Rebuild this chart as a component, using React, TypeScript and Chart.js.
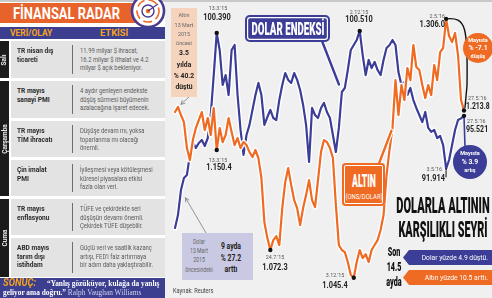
import React, { useEffect, useRef } from "react";
import { Chart, registerables } from "chart.js";

Chart.register(...registerables);

// ---------------- DATA ----------------
const dollarIndex: number[] = [
  88.77, 89.54, 91.03, 91.75, 91.93, 93.12, 93.89, 93.54, 93.83, 94.01,
  93.65, 94.13, 95.5, 97.88, 100.39, 99.37, 97.29, 97.88, 96.69, 99.37,
  99.67, 96.69, 94.61, 93.12, 94.31, 94.91, 95.8, 96.69, 97.41, 96.69,
  94.91, 95.38, 95.8, 95.32, 95.2, 96.39, 97.29, 98.0, 97.59, 97.41,
  98.0, 97.59, 96.99, 96.1, 94.91, 92.7, 95.92, 95.5, 95.32, 95.92,
  96.22, 95.68, 95.32, 94.31, 93.3, 94.73, 96.87, 97.11, 98.18, 99.37,
  99.67, 99.97, 100.51, 99.07, 97.88, 98.78, 98.3, 98.66, 98.18, 97.88,
  98.78, 99.49, 99.67, 99.97, 99.67, 98.06, 97.29, 97.47, 96.69, 97.11,
  96.39, 95.92, 95.5, 95.08, 95.68, 94.73, 94.49, 94.61, 94.13, 94.25,
  93.71, 92.3, 92.82, 93.71, 94.61, 95.2, 95.3, 95.45,
];

const goldPrice: number[] = [
  1212.2, 1217.3, 1209.2, 1202.1, 1176.0, 1163.9, 1184.0, 1196.1, 1204.2, 1212.2,
  1194.1, 1206.2, 1189.1, 1216.2, 1174.0, 1196.1, 1182.0, 1189.1, 1206.2, 1192.1,
  1179.0, 1186.0, 1176.0, 1182.0, 1179.0, 1171.9, 1166.9, 1174.0, 1165.9, 1145.8,
  1101.4, 1085.3, 1073.3, 1083.3, 1087.3, 1078.3, 1115.5, 1141.7, 1155.8, 1138.7,
  1123.6, 1115.5, 1098.4, 1115.5, 1128.6, 1143.7, 1123.6, 1116.5, 1143.7, 1171.9,
  1184.0, 1182.0, 1176.0, 1165.9, 1118.6, 1078.3, 1073.3, 1071.2, 1061.2, 1048.1,
  1045.4, 1061.2, 1073.3, 1065.2, 1069.2, 1061.2, 1073.3, 1078.3, 1083.3, 1093.4,
  1108.5, 1148.8, 1174.0, 1196.1, 1244.4, 1209.2, 1239.4, 1224.3, 1256.5, 1244.4,
  1279.7, 1257.5, 1254.5, 1239.4, 1226.3, 1239.4, 1229.3, 1259.5, 1244.4, 1272.6,
  1276.7, 1306.0, 1288.7, 1282.7, 1291.8, 1269.6, 1224.3, 1213.8,
];

const periods: string[] = dollarIndex.map((_, i) => `g${i + 1}`);

const dollarMarkerIdx = [14, 62, 97];
const goldMarkerIdx = [14, 32, 60, 91, 97];
const dollarLowIdx = 91;
const goldPeakIdx = 91;
const lastIdx = 97;

const dollarRange = [84.6, 102.35];
const goldRange = [1025, 1325];

const dayNames = ["Salı", "Çarşamba", "Cuma"];
const events = [
  ["TR nisan dış", "ticareti"],
  ["TR mayıs", "sanayi PMI"],
  ["TR mayıs", "TİM ihracatı"],
  ["Çin imalat", "PMI"],
  ["TR mayıs", "enflasyonu"],
  ["ABD mayıs", "tarım dışı", "istihdam"],
];
const effects = [
  ["11.99 milyar $ ihracat,", "16.2 milyar $ ithalat ve 4.2", "milyar $ açık bekleniyor."],
  ["4 aydır genleyen endekste", "düşüş sürmesi büyümenin", "azalacağına işaret edecek."],
  ["Düşüşe devam mı, yoksa", "toparlanma mı olacağı", "önemli."],
  ["İyileşmesi veya kötüleşmesi", "küresel piyasalara etkisi", "fazla olan veri."],
  ["TÜFE ve çekirdekte seri", "düşüşün devamı önemli.", "Çekirdek TÜFE düşebilir."],
  ["Güçlü veri ve saatlik kazanç", "artışı, FED'i faiz artırmaya", "bir adım daha yaklaştırabilir."],
];

// ---------------- STYLE ----------------
const FONT = "Roboto, 'Noto Sans', sans-serif";
const SERIF = "'Liberation Serif', 'DejaVu Serif', serif";
const BLUE = "#3b3d96";
const ORANGE = "#ef6a22";
const PURPLE = "#3c3e8f";
const HALO = "rgba(255,255,255,0.95)";
const OX = 165; // canvas left offset on page

const rowTop = [41, 81, 121, 160, 199, 238];
const rowH = [37, 37, 36, 36, 36, 39];
const dayTop = [41, 81, 199];
const dayH = [37, 115, 78];

type TP = {
  x: number; y: number; lines: string[]; size?: number; lh?: number; weight?: number;
  color?: string; align?: "left" | "center" | "right"; sx?: number; family?: string; italic?: boolean;
};
function T({ x, y, lines, size = 7, lh, weight = 400, color = "#333", align = "left", sx = 1, family = FONT, italic = false }: TP) {
  const a = align === "left" ? 0 : align === "center" ? 0.5 : 1;
  const L = lh ?? size * 1.2;
  return (
    <div
      style={{
        position: "absolute", left: x, top: y - L / 2, fontSize: size, lineHeight: L + "px",
        fontWeight: weight, color, fontFamily: family, whiteSpace: "nowrap", textAlign: align,
        transform: `translateX(${-a * 100}%) scaleX(${sx})`, transformOrigin: `${a * 100}% 0`,
        fontStyle: italic ? "italic" : "normal",
      }}
    >
      {lines.map((l, i) => (<div key={i}>{l}</div>))}
    </div>
  );
}

function pt(chart: any, ds: number, i: number) {
  const e = chart.getDatasetMeta(ds).data[i];
  return { x: e.x, y: e.y };
}
function toward(from: { x: number; y: number }, to: { x: number; y: number }, cut: number) {
  const dx = to.x - from.x, dy = to.y - from.y, d = Math.hypot(dx, dy);
  return { x: to.x - (dx / d) * cut, y: to.y - (dy / d) * cut };
}

const overlayPlugin = {
  id: "overlay",
  afterDatasetsDraw(chart: any) {
    const ctx = chart.ctx as CanvasRenderingContext2D;
    ctx.save();
    ctx.lineCap = "round";
    const line = (a: any, b: any, color: string, w: number) => {
      ctx.strokeStyle = color; ctx.lineWidth = w;
      ctx.beginPath(); ctx.moveTo(a.x, a.y); ctx.lineTo(b.x, b.y); ctx.stroke();
    };
    const arrow = (a: any, b: any, color: string) => {
      line(a, b, color, 0.9);
      const ang = Math.atan2(b.y - a.y, b.x - a.x), L = 4;
      ctx.beginPath();
      ctx.moveTo(b.x - L * Math.cos(ang - 0.5), b.y - L * Math.sin(ang - 0.5));
      ctx.lineTo(b.x, b.y);
      ctx.lineTo(b.x - L * Math.cos(ang + 0.5), b.y - L * Math.sin(ang + 0.5));
      ctx.stroke();
    };
    const gFrom = { x: 189 - OX, y: 97 };
    arrow(gFrom, toward(gFrom, pt(chart, 3, 1), 4), "#8a8a8a");
    const dFrom = { x: 206 - OX, y: 233 };
    arrow(dFrom, toward(dFrom, pt(chart, 1, 2), 9), "#8a8a8a");
    const deFrom = { x: 322 - OX, y: 41 };
    const deTo = toward(deFrom, pt(chart, 1, 56), 8);
    line(deFrom, deTo, "#ffffff", 4.5);
    line(deFrom, deTo, BLUE, 2.4);
    const alFrom = { x: 378 - OX, y: 166 };
    const alTo = toward(alFrom, pt(chart, 3, 73), 3);
    line(alFrom, alTo, "#ffffff", 4.5);
    line(alFrom, alTo, ORANGE, 2.4);
    const p1 = pt(chart, 3, goldPeakIdx), p2 = pt(chart, 3, lastIdx);
    ctx.strokeStyle = "#111"; ctx.lineWidth = 1.4;
    ctx.beginPath(); ctx.moveTo(p1.x, p1.y);
    ctx.bezierCurveTo(p1.x + 20, p1.y - 2, p2.x + 4, p1.y + 8, p2.x + 3, p2.y - 25);
    ctx.lineTo(p2.x + 1, p2.y - 3);
    ctx.stroke();
    const lo = pt(chart, 1, dollarLowIdx);
    line({ x: 446 - OX, y: 177 }, lo, "#111", 1);
    const dl = pt(chart, 1, lastIdx);
    line(dl, { x: dl.x + 1, y: 147 }, BLUE, 1.6);
    ctx.fillStyle = "#111";
    dollarMarkerIdx.forEach((i) => { const p = pt(chart, 1, i); ctx.beginPath(); ctx.arc(p.x, p.y, 2.2, 0, Math.PI * 2); ctx.fill(); });
    goldMarkerIdx.forEach((i) => { const p = pt(chart, 3, i); ctx.beginPath(); ctx.arc(p.x, p.y, 2.2, 0, Math.PI * 2); ctx.fill(); });
    ctx.restore();
  },
};

const dateS = { size: 6, color: "#555", sx: 0.9 };
const valS = { size: 9, weight: 700, color: "#1e1e1e", sx: 0.82 };

export default function App() {
  const ref = useRef<HTMLCanvasElement>(null);
  useEffect(() => {
    const chart = new Chart(ref.current as HTMLCanvasElement, {
      type: "line",
      data: {
        labels: periods,
        datasets: [
          { label: "h1", data: dollarIndex, yAxisID: "yD", borderColor: HALO, borderWidth: 5, pointRadius: 0, order: 4 },
          { label: "Dolar Endeksi", data: dollarIndex, yAxisID: "yD", borderColor: BLUE, borderWidth: 2.2, pointRadius: 0, order: 3 },
          { label: "h2", data: goldPrice, yAxisID: "yG", borderColor: HALO, borderWidth: 5, pointRadius: 0, order: 2 },
          { label: "Altın (ons/dolar)", data: goldPrice, yAxisID: "yG", borderColor: ORANGE, borderWidth: 2.2, pointRadius: 0, order: 1 },
        ],
      },
      options: {
        responsive: false,
        animation: false,
        devicePixelRatio: 1,
        layout: { padding: { left: 10, right: 28, top: 0, bottom: 0 } },
        plugins: { legend: { display: false }, tooltip: { enabled: false } },
        elements: { line: { tension: 0, borderJoinStyle: "round", borderCapStyle: "round" } },
        scales: {
          x: { display: false },
          yD: { type: "linear", position: "left", display: false, min: dollarRange[0], max: dollarRange[1] },
          yG: { type: "linear", position: "right", display: false, min: goldRange[0], max: goldRange[1] },
        },
      } as any,
      plugins: [overlayPlugin],
    });
    return () => chart.destroy();
  }, []);

  return (
    <div style={{ position: "fixed", left: 0, top: 0, width: 492, height: 298, overflow: "hidden", background: "#fff", fontFamily: FONT }}>
      <div style={{ position: "absolute", left: 0, top: 0, width: 492, height: 2, background: "#c9c9c9" }} />
      <div style={{ position: "absolute", left: OX, top: 2, width: 327, height: 296, background: "#f0f0f0" }} />
      <canvas ref={ref} width={327} height={298} style={{ position: "absolute", left: OX, top: 0, width: 327, height: 298 }} />

      {/* ---------- LEFT PANEL ---------- */}
      <div style={{ position: "absolute", left: 0, top: 3, width: 140, height: 20, background: "#e8632b" }} />
      <T x={13} y={13} lines={["FİNANSAL RADAR"]} size={17} weight={700} color="#fff" sx={0.76} />
      <svg style={{ position: "absolute", left: 128, top: 0 }} width={40} height={30} viewBox="0 0 40 30">
        <circle cx={20} cy={11} r={16} fill="#fff" stroke="#4a3b8e" strokeWidth={2.6} />
        <circle cx={20} cy={11} r={11} fill="none" stroke="#ef6a22" strokeWidth={1.6} strokeDasharray="9 4" />
        <circle cx={20} cy={11} r={6} fill="none" stroke="#4a3b8e" strokeWidth={1.4} />
        <circle cx={20} cy={11} r={2.2} fill="#ef6a22" />
        <line x1={20} y1={11} x2={30} y2={4} stroke="#4a3b8e" strokeWidth={1.2} />
      </svg>
      <div style={{ position: "absolute", left: 0, top: 27, width: 165, height: 12, background: PURPLE }} />
      <T x={10} y={33} lines={["VERİ/OLAY"]} size={8.5} weight={700} color="#f6a31c" />
      <T x={100} y={33} lines={["ETKİSİ"]} size={8.5} weight={700} color="#f6a31c" sx={1.1} />

      {dayNames.map((d, i) => (
        <div key={d} style={{ position: "absolute", left: 0, top: dayTop[i], width: 9, height: dayH[i], background: "#1b1b1b", display: "flex", alignItems: "center", justifyContent: "center" }}>
          <span style={{ transform: "rotate(-90deg)", whiteSpace: "nowrap", color: "#e8e8e8", fontSize: 6.5, fontWeight: 700 }}>{d}</span>
        </div>
      ))}
      {events.map((ev, i) => (
        <React.Fragment key={i}>
          <div style={{ position: "absolute", left: 11, top: rowTop[i], width: 154, height: rowH[i], background: "#e3e3e3" }} />
          <div style={{ position: "absolute", left: 72, top: rowTop[i] + 4, width: 1, height: rowH[i] - 8, background: "#6d6d6d" }} />
          <T x={17} y={rowTop[i] + 10.5} lines={ev} size={7.3} lh={8.5} weight={700} color="#2b2b2b" sx={0.9} />
          <T x={80} y={rowTop[i] + 10.5} lines={effects[i]} size={7} lh={8.5} color="#5b5b5b" sx={0.84} />
        </React.Fragment>
      ))}
      <div style={{ position: "absolute", left: 0, top: 278, width: 165, height: 20, background: PURPLE }} />
      <T x={3} y={283.5} lines={["SONUÇ:"]} size={10.5} weight={700} italic color="#f6a31c" sx={0.9} />
      <T x={47} y={284} lines={["“Yanlış gözüküyor, kulağa da yanlış"]} size={8} weight={700} color="#fff" family={SERIF} sx={0.92} />
      <div style={{ position: "absolute", left: 3, top: 288, whiteSpace: "nowrap", fontFamily: SERIF, fontSize: 8, lineHeight: "10px", transform: "scaleX(0.92)", transformOrigin: "0 0" }}>
        <span style={{ color: "#fff", fontWeight: 700 }}>geliyor ama doğru.”</span>
        <span style={{ color: "#cfd0f0" }}> Ralph Vaughan Williams</span>
      </div>

      {/* ---------- CHART ANNOTATIONS ---------- */}
      <div style={{ position: "absolute", left: 171, top: 8, width: 26, height: 89, background: "#f6d3bd" }} />
      <T x={184} y={15} lines={["Altın", "13 Mart", "2015", "öncesi"]} size={6} lh={9.3} color="#666" align="center" sx={0.9} />
      <T x={184} y={53} lines={["3.5", "yılda", "% 40.2", "düştü"]} size={8} lh={11.3} weight={700} color="#222" align="center" sx={0.85} />

      <div style={{ position: "absolute", left: 182, top: 233, width: 71, height: 47, background: "#c9c9e3" }} />
      <T x={199} y={242.5} lines={["Dolar", "13 Mart", "2015", "öncesindeki"]} size={6.3} lh={9.2} color="#666" align="center" sx={0.82} />
      <T x={231} y={247} lines={["9 ayda", "% 27.2", "arttı"]} size={8.5} lh={11.2} weight={700} color="#222" align="center" sx={0.8} />

      <div style={{ position: "absolute", left: 245, top: 15, width: 85, height: 27, background: BLUE, borderRadius: 5, boxShadow: `inset 0 0 0 2px ${BLUE}, inset 0 0 0 3.2px #fff` }} />
      <T x={287.5} y={28.5} lines={["DOLAR ENDEKSİ"]} size={18} weight={900} color="#fff" align="center" sx={0.54} />

      <div style={{ position: "absolute", left: 342, top: 163, width: 43, height: 43, background: ORANGE, borderRadius: 4, boxShadow: `inset 0 0 0 2px ${ORANGE}, inset 0 0 0 3px #fff` }} />
      <T x={363.5} y={181} lines={["ALTIN"]} size={18} weight={900} color="#fff" align="center" sx={0.48} />
      <T x={363.5} y={197} lines={["(ONS/DOLAR)"]} size={7} color="#fff" align="center" sx={0.85} />

      <T x={218} y={7.5} lines={["13.3.'15"]} {...dateS} align="center" />
      <T x={217} y={17.5} lines={["100.390"]} {...valS} align="center" />
      <T x={359} y={11.5} lines={["2.12.'15"]} {...dateS} align="center" />
      <T x={359} y={19.5} lines={["100.510"]} {...valS} align="center" />
      <T x={445} y={15.5} lines={["2.5.'16"]} {...dateS} align="right" />
      <T x={445} y={24} lines={["1.306.0"]} {...valS} align="right" />
      <T x={468} y={97.5} lines={["27.5.'16"]} {...dateS} />
      <T x={466} y={106.5} lines={["1.213.8"]} {...valS} sx={0.76} />
      <T x={467} y={120.5} lines={["27.5.'16"]} {...dateS} />
      <T x={466} y={129} lines={["95.521"]} {...valS} sx={0.78} />
      <T x={442} y={169} lines={["3.5.'16"]} {...dateS} align="right" />
      <T x={445} y={178.5} lines={["91.914"]} {...valS} align="right" />
      <T x={218} y={159.5} lines={["13.3.'15"]} {...dateS} align="center" />
      <T x={219} y={167.5} lines={["1.150.4"]} {...valS} align="center" />
      <T x={275} y={256.5} lines={["24.7.'15"]} {...dateS} align="center" />
      <T x={275} y={267.5} lines={["1.072.3"]} {...valS} align="center" />
      <T x={335} y={275} lines={["3.12.'15"]} {...dateS} align="center" />
      <T x={335} y={285} lines={["1.045.4"]} {...valS} align="center" />

      <div style={{ position: "absolute", left: 463, top: 33, width: 30, height: 30, borderRadius: "50%", background: ORANGE }} />
      <T x={478} y={40.5} lines={["Mayısta"]} size={5.5} weight={700} color="#fff" align="center" />
      <T x={478} y={48} lines={["% -7.1"]} size={8} weight={700} color="#fff" align="center" sx={0.85} />
      <T x={478} y={56} lines={["düşüş"]} size={5.5} weight={700} color="#fff" align="center" />

      <div style={{ position: "absolute", left: 453, top: 145, width: 34, height: 34, borderRadius: "50%", background: BLUE }} />
      <T x={470} y={153.5} lines={["Mayısta"]} size={5.5} weight={700} color="#fff" align="center" />
      <T x={470} y={162} lines={["% 3.9"]} size={8} weight={700} color="#fff" align="center" sx={0.85} />
      <T x={470} y={170.5} lines={["artış"]} size={5.5} weight={700} color="#fff" align="center" />

      <T x={443} y={205} lines={["DOLARLA ALTININ"]} size={22.5} weight={900} color="#111" align="center" sx={0.49} />
      <T x={443} y={229.5} lines={["KARŞILIKLI SEYRİ"]} size={22.5} weight={900} color="#111" align="center" sx={0.48} />

      <T x={394} y={252.5} lines={["Son"]} size={12} weight={900} color="#111" align="center" sx={0.6} />
      <T x={394} y={267} lines={["14.5"]} size={12} weight={900} color="#111" align="center" sx={0.6} />
      <T x={394} y={282} lines={["ayda"]} size={12} weight={900} color="#111" align="center" sx={0.6} />

      <div style={{ position: "absolute", left: 403, top: 250, width: 89, height: 15, background: BLUE, clipPath: "polygon(6px 0, 100% 0, 100% 100%, 6px 100%, 0 50%)" }} />
      <T x={488} y={257.5} lines={["Dolar yüzde 4.9 düştü."]} size={8} color="#fff" align="right" sx={0.84} />
      <div style={{ position: "absolute", left: 403, top: 270, width: 89, height: 15, background: ORANGE, clipPath: "polygon(6px 0, 100% 0, 100% 100%, 6px 100%, 0 50%)" }} />
      <T x={488} y={277.5} lines={["Altın yüzde 10.5 arttı."]} size={8} color="#fff" align="right" sx={0.84} />

      <T x={173} y={292} lines={["Kaynak: Reuters"]} size={6.3} color="#444" sx={0.9} />
    </div>
  );
}
